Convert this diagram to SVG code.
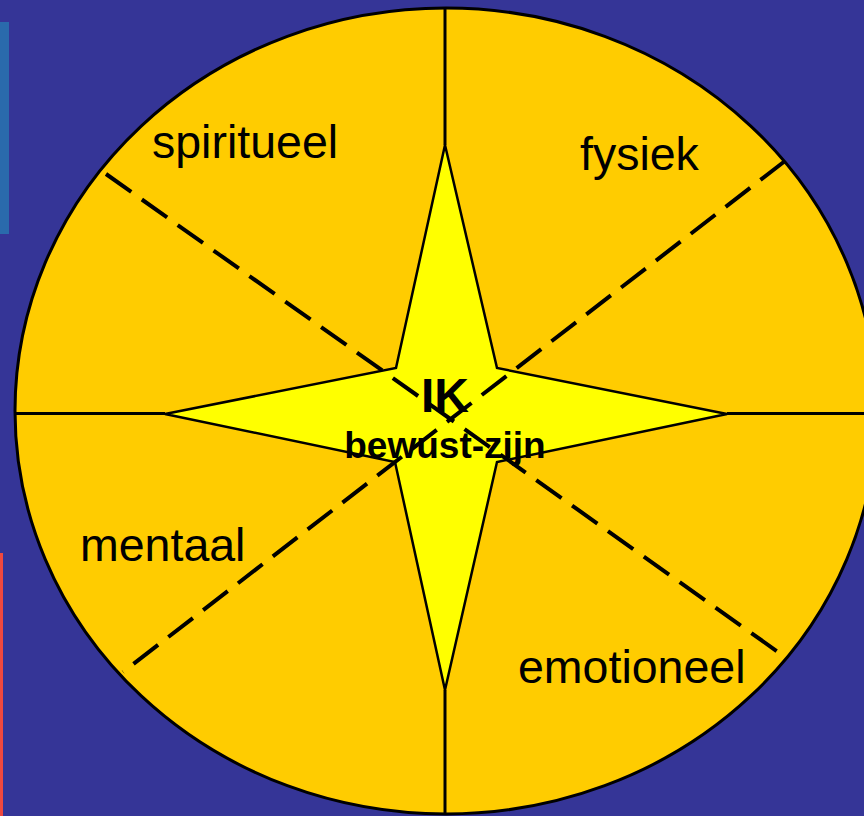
<svg xmlns="http://www.w3.org/2000/svg" width="864" height="816" viewBox="0 0 864 816">
  <style>
    .lbl { font-family: "Liberation Sans", Arial, sans-serif; font-size: 46.5px; fill: #000; }
    .bold { font-family: "Liberation Sans", Arial, sans-serif; font-weight: bold; fill: #000; text-anchor: middle; }
    .solid { stroke: #000; stroke-width: 3; fill: none; }
    .dash { stroke: #000; stroke-width: 4; fill: none; stroke-dasharray: 31 13; }
  </style>
  <rect x="0" y="0" width="864" height="816" fill="#353597"/>
  <rect x="0" y="22" width="9" height="212" fill="#2a6aac"/>
  <rect x="0" y="553" width="3" height="263" fill="#f0483f"/>
  <g id="circle">
    <ellipse cx="446" cy="411" rx="431" ry="403" fill="#ffcc00" stroke="#000" stroke-width="3"/>
  </g>
  <g id="connectors">
    <line class="solid" x1="445" y1="9" x2="445" y2="145"/>
    <line class="solid" x1="445" y1="690" x2="445" y2="813"/>
    <line class="solid" x1="15" y1="413.5" x2="165" y2="413.5"/>
    <line class="solid" x1="727" y1="413.5" x2="864" y2="413.5"/>
  </g>
  <g id="star">
    <polygon points="445,145 497,368 727,414 497,462 445,690 395,462 165,414 396,368" fill="#ffff00" stroke="#000" stroke-width="2.5" stroke-linejoin="miter"/>
  </g>
  <g id="dashes">
    <line class="dash" x1="106" y1="174" x2="778" y2="652"/>
    <line class="dash" x1="785" y1="161" x2="123" y2="672"/>
  </g>
  <g id="labels">
    <text class="lbl" x="152" y="158">spiritueel</text>
    <text class="lbl" x="580" y="170">fysiek</text>
    <text class="lbl" x="80" y="561">mentaal</text>
    <text class="lbl" x="518" y="683">emotioneel</text>
  </g>
  <g id="center">
    <text class="bold" x="445" y="412" font-size="48">IK</text>
    <text class="bold" x="445" y="458" font-size="37">bewust-zijn</text>
  </g>
</svg>
